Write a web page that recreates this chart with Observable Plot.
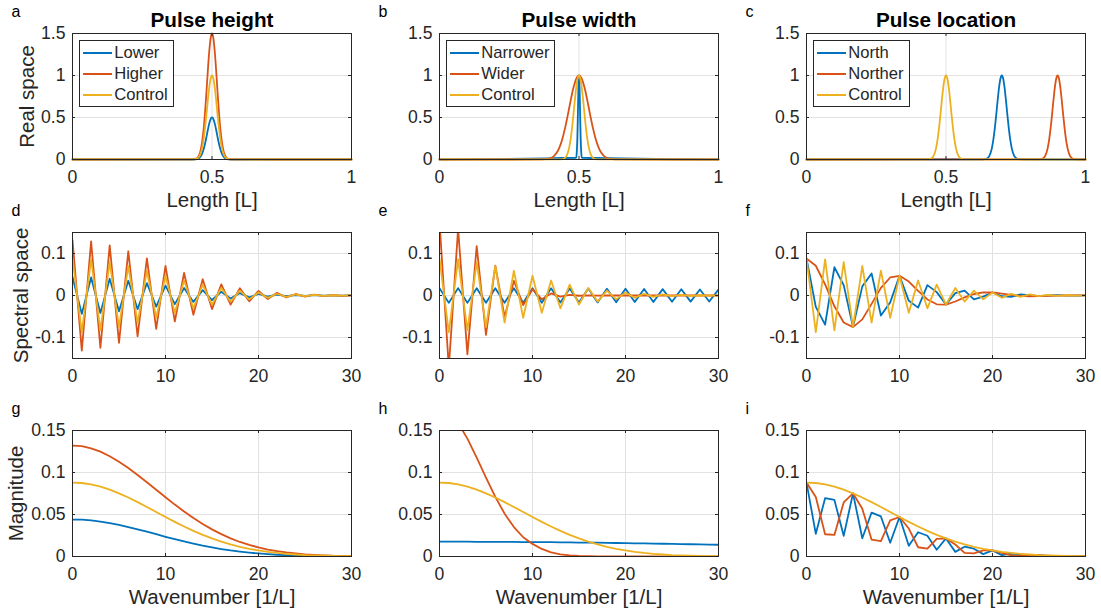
<!DOCTYPE html>
<html><head><meta charset="utf-8">
<script src="https://cdn.jsdelivr.net/npm/d3@7"></script>
<script src="https://cdn.jsdelivr.net/npm/@observablehq/plot@0.6"></script>
<style>
body{margin:0;background:#fff;}
#fig{position:relative;width:1101px;height:612px;background:#fff;font-family:"Liberation Sans",Arial,Helvetica,sans-serif;color:#262626;overflow:hidden}
.panel{position:absolute}
.legend{position:absolute;border:1px solid #262626;background:#fff;padding:1px 5px 1px 2px;font-size:16.6px;line-height:21px;color:#262626}
.legend .row{display:flex;align-items:center;height:21px;white-space:nowrap}
.legend .sw{width:29px;height:2px;margin-left:0.7px;margin-right:2.5px;flex:none}
</style></head><body><div id="fig"></div>
<script>
// ---------- data ----------
const seriesColors = ["#0072BD", "#D95319", "#EDB120"];

// Real space, column 1 (pulse height) and control pulse
const xPulse50 = [0,0.43,0.435,0.44,0.445,0.45,0.455,0.46,0.465,0.47,0.475,0.48,0.485,0.49,0.495,0.5,0.505,0.51,0.515,0.52,0.525,0.53,0.535,0.54,0.545,0.55,0.555,0.56,0.565,0.57,1];
const realControl = [0,0.0004,0.0013,0.0034,0.0085,0.019,0.041,0.080,0.145,0.242,0.373,0.532,0.701,0.854,0.961,1,0.961,0.854,0.701,0.532,0.373,0.242,0.145,0.080,0.041,0.019,0.0085,0.0034,0.0013,0.0004,0];
const realLower = [0,0.0002,0.0007,0.0017,0.0043,0.0095,0.021,0.040,0.073,0.121,0.187,0.266,0.351,0.427,0.481,0.5,0.481,0.427,0.351,0.266,0.187,0.121,0.073,0.040,0.021,0.0095,0.0043,0.0017,0.0007,0.0002,0];
const realHigher = [0,0.0006,0.002,0.0051,0.0128,0.029,0.062,0.120,0.218,0.363,0.560,0.798,1.052,1.281,1.442,1.5,1.442,1.281,1.052,0.798,0.560,0.363,0.218,0.120,0.062,0.029,0.0128,0.0051,0.002,0.0006,0];

// Real space, column 2 (pulse width)
const xNarrow = [0,0.49,0.492,0.494,0.496,0.498,0.5,0.502,0.504,0.506,0.508,0.51,1];
const realNarrow = [0,0.021,0.085,0.249,0.539,0.857,1,0.857,0.539,0.249,0.085,0.021,0];
const xWider = [0,0.36,0.37,0.38,0.39,0.40,0.41,0.42,0.43,0.44,0.45,0.46,0.47,0.48,0.49,0.5,0.51,0.52,0.53,0.54,0.55,0.56,0.57,0.58,0.59,0.60,0.61,0.62,0.63,0.64,1];
const realWider = [0,0.0004,0.0013,0.0034,0.0085,0.019,0.041,0.080,0.145,0.242,0.373,0.532,0.701,0.854,0.961,1,0.961,0.854,0.701,0.532,0.373,0.242,0.145,0.080,0.041,0.019,0.0085,0.0034,0.0013,0.0004,0];

// Real space, column 3 (pulse location)
const xNorth = [0,0.63,0.635,0.64,0.645,0.65,0.655,0.66,0.665,0.67,0.675,0.68,0.685,0.69,0.695,0.7,0.705,0.71,0.715,0.72,0.725,0.73,0.735,0.74,0.745,0.75,0.755,0.76,0.765,0.77,1];
const realNorth = [0,0.0004,0.0013,0.0034,0.0085,0.019,0.041,0.080,0.145,0.242,0.373,0.532,0.701,0.854,0.961,1,0.961,0.854,0.701,0.532,0.373,0.242,0.145,0.080,0.041,0.019,0.0085,0.0034,0.0013,0.0004,0];
const xNorther = [0,0.83,0.835,0.84,0.845,0.85,0.855,0.86,0.865,0.87,0.875,0.88,0.885,0.89,0.895,0.9,0.905,0.91,0.915,0.92,0.925,0.93,0.935,0.94,0.945,0.95,0.955,0.96,0.965,0.97,1];
const realNorther = [0,0.0004,0.0013,0.0034,0.0085,0.019,0.041,0.080,0.145,0.242,0.373,0.532,0.701,0.854,0.961,1,0.961,0.854,0.701,0.532,0.373,0.242,0.145,0.080,0.041,0.019,0.0085,0.0034,0.0013,0.0004,0];

// Wavenumbers
const wavenumbers = [0,1,2,3,4,5,6,7,8,9,10,11,12,13,14,15,16,17,18,19,20,21,22,23,24,25,26,27,28,29,30];

// Spectral space
const specLower = [0.0440,-0.0438,0.0429,-0.0416,0.0398,-0.0376,0.0351,-0.0324,0.0295,-0.0265,0.0235,-0.0206,0.0179,-0.0153,0.0129,-0.0108,0.0089,-0.0072,0.0058,-0.0046,0.0036,-0.0028,0.0021,-0.0016,0.0012,-0.0009,0.0007,-0.0005,0.0003,-0.0003,0.0002];
const specHigher = [0.1320,-0.1313,0.1287,-0.1248,0.1194,-0.1128,0.1053,-0.0971,0.0884,-0.0795,0.0705,-0.0618,0.0536,-0.0458,0.0387,-0.0323,0.0266,-0.0216,0.0173,-0.0138,0.0108,-0.0083,0.0063,-0.0048,0.0036,-0.0026,0.0020,-0.0014,0.0009,-0.0008,0.0005];
const specControl = [0.0880,-0.0875,0.0858,-0.0832,0.0796,-0.0752,0.0702,-0.0647,0.0589,-0.0530,0.0470,-0.0412,0.0357,-0.0305,0.0258,-0.0215,0.0177,-0.0144,0.0115,-0.0092,0.0072,-0.0055,0.0042,-0.0032,0.0024,-0.0017,0.0013,-0.0009,0.0006,-0.0005,0.0003];
const specNarrow = [0.0176,-0.0176,0.0176,-0.0176,0.0175,-0.0175,0.0174,-0.0174,0.0173,-0.0172,0.0171,-0.0171,0.0170,-0.0169,0.0168,-0.0166,0.0165,-0.0164,0.0162,-0.0161,0.0159,-0.0157,0.0156,-0.0154,0.0152,-0.0150,0.0148,-0.0146,0.0144,-0.0142,0.0140];
const specWider = [0.1760,-0.1716,0.1590,-0.1403,0.1176,-0.0940,0.0710,-0.0510,0.0350,-0.0229,0.0150,-0.0090,0.0050,-0.0026,0.0013,-0.0006,0.0003,-0.0001,0,0,0,0,0,0,0,0,0,0,0,0,0];
const specNorth = [0.0880,-0.0270,-0.0694,0.0673,0.0246,-0.0752,0.0217,0.0523,-0.0477,-0.0164,0.0470,-0.0127,-0.0289,0.0247,0.0080,-0.0215,0.0055,0.0117,-0.0093,-0.0028,0.0072,-0.0017,-0.0034,0.0026,0.0007,-0.0017,0.0004,0.0007,-0.0005,-0.0002,0.0003];
const specNorther = [0.0880,0.0708,0.0265,-0.0257,-0.0644,-0.0752,-0.0568,-0.0200,0.0182,0.0429,0.0470,0.0333,0.0110,-0.0094,-0.0209,-0.0215,-0.0143,-0.0044,0.0036,0.0074,0.0072,0.0044,0.0013,-0.0010,-0.0019,-0.0017,-0.0011,-0.0003,0.0002,0.0004,0.0003];

// Magnitude
const magLower = [0.0440,0.0438,0.0429,0.0416,0.0398,0.0376,0.0351,0.0324,0.0295,0.0265,0.0235,0.0206,0.0179,0.0153,0.0129,0.0108,0.0089,0.0072,0.0058,0.0046,0.0036,0.0028,0.0021,0.0016,0.0012,0.0009,0.0007,0.0005,0.0003,0.0003,0.0002];
const magHigher = [0.1320,0.1313,0.1287,0.1248,0.1194,0.1128,0.1053,0.0971,0.0884,0.0795,0.0705,0.0618,0.0536,0.0458,0.0387,0.0323,0.0266,0.0216,0.0173,0.0138,0.0108,0.0083,0.0063,0.0048,0.0036,0.0026,0.0020,0.0014,0.0009,0.0008,0.0005];
const magControl = [0.0880,0.0875,0.0858,0.0832,0.0796,0.0752,0.0702,0.0647,0.0589,0.0530,0.0470,0.0412,0.0357,0.0305,0.0258,0.0215,0.0177,0.0144,0.0115,0.0092,0.0072,0.0055,0.0042,0.0032,0.0024,0.0017,0.0013,0.0009,0.0006,0.0005,0.0003];
const magNarrow = [0.0176,0.0176,0.0176,0.0176,0.0175,0.0175,0.0174,0.0174,0.0173,0.0172,0.0171,0.0171,0.0170,0.0169,0.0168,0.0166,0.0165,0.0164,0.0162,0.0161,0.0159,0.0157,0.0156,0.0154,0.0152,0.0150,0.0148,0.0146,0.0144,0.0142,0.0140];
const magWider = [0.1760,0.1716,0.1590,0.1403,0.1176,0.0940,0.0710,0.0510,0.0350,0.0229,0.0150,0.0090,0.0050,0.0026,0.0013,0.0006,0.0003,0.0001,0,0,0,0,0,0,0,0,0,0,0,0,0];
const magNorth = [0.0880,0.0270,0.0694,0.0673,0.0246,0.0752,0.0217,0.0523,0.0477,0.0164,0.0470,0.0127,0.0289,0.0247,0.0080,0.0215,0.0055,0.0117,0.0093,0.0028,0.0072,0.0017,0.0034,0.0026,0.0007,0.0017,0.0004,0.0007,0.0005,0.0002,0.0003];
const magNorther = [0.0880,0.0708,0.0265,0.0257,0.0644,0.0752,0.0568,0.0200,0.0182,0.0429,0.0470,0.0333,0.0110,0.0094,0.0209,0.0215,0.0143,0.0044,0.0036,0.0074,0.0072,0.0044,0.0013,0.0010,0.0019,0.0017,0.0011,0.0003,0.0002,0.0004,0.0003];

// Labels
const columnTitles = ["Pulse height", "Pulse width", "Pulse location"];
const legendNames = [["Lower","Higher","Control"],["Narrower","Wider","Control"],["North","Norther","Control"]];
const panelLetters = [["a","b","c"],["d","e","f"],["g","h","i"]];
const rowYLabels = ["Real space", "Spectral space", "Magnitude"];
const rowXLabels = ["Length [L]", null, "Wavenumber [1/L]"];
const realTicksX = [0, 0.5, 1];
const realTicksY = [0, 0.5, 1, 1.5];
const waveTicksX = [0, 10, 20, 30];
const specTicksY = [-0.1, 0, 0.1];
const magTicksY = [0, 0.05, 0.1, 0.15];

// ---------- layout ----------
const W = 279, H = 126, ML = 72, MR = 12, MT = 33, MB = 56;
const colLeft = [72, 439, 806];
const rowTop = [33, 232, 430];
const AX = "#262626", GRID = "#e2e2e2";
const yLabelDx = [-39, -45, -49.5];
const FONT = '"Liberation Sans", Arial, Helvetica, sans-serif';

const rowCfg = [
  {xDomain:[0,1], yDomain:[0,1.5], xTicks:realTicksX, yTicks:realTicksY, curve:"monotone-x", clip:false},
  {xDomain:[0,30], yDomain:[-0.15,0.15], xTicks:waveTicksX, yTicks:specTicksY, curve:"linear", clip:true},
  {xDomain:[0,30], yDomain:[0,0.15], xTicks:waveTicksX, yTicks:magTicksY, curve:"linear", clip:true}
];

const panelSeries = [
  [ [[xPulse50,realLower],[xPulse50,realHigher],[xPulse50,realControl]],
    [[xNarrow,realNarrow],[xWider,realWider],[xPulse50,realControl]],
    [[xNorth,realNorth],[xNorther,realNorther],[xPulse50,realControl]] ],
  [ [[wavenumbers,specLower],[wavenumbers,specHigher],[wavenumbers,specControl]],
    [[wavenumbers,specNarrow],[wavenumbers,specWider],[wavenumbers,specControl]],
    [[wavenumbers,specNorth],[wavenumbers,specNorther],[wavenumbers,specControl]] ],
  [ [[wavenumbers,magLower],[wavenumbers,magHigher],[wavenumbers,magControl]],
    [[wavenumbers,magNarrow],[wavenumbers,magWider],[wavenumbers,magControl]],
    [[wavenumbers,magNorth],[wavenumbers,magNorther],[wavenumbers,magControl]] ]
];

const fig = document.getElementById("fig");
const fmt = d => String(d);

for (let r = 0; r < 3; r++) {
  for (let c = 0; c < 3; c++) {
    const cfg = rowCfg[r];
    const marks = [
      Plot.gridX(cfg.xTicks, {stroke: GRID, strokeOpacity: 1}),
      Plot.gridY(cfg.yTicks, {stroke: GRID, strokeOpacity: 1})
    ];
    panelSeries[r][c].forEach(([xs, ys], s) => {
      marks.push(Plot.line(xs.map((xv, i) => ({x: xv, y: ys[i]})), {
        x: "x", y: "y", stroke: seriesColors[s], strokeWidth: 1.8,
        curve: cfg.curve, clip: cfg.clip, strokeLinejoin: "round"
      }));
    });
    marks.push(
      Plot.tickX(cfg.xTicks, {insetTop: H - 3, stroke: AX}),
      Plot.tickX(cfg.xTicks, {insetBottom: H - 3, stroke: AX}),
      Plot.tickY(cfg.yTicks, {insetRight: W - 3, stroke: AX}),
      Plot.tickY(cfg.yTicks, {insetLeft: W - 3, stroke: AX}),
      Plot.axisX({ticks: cfg.xTicks, tickSize: 0, tickPadding: 11, tickFormat: fmt, label: null, fontSize: 17.6, fill: AX}),
      Plot.axisY({ticks: cfg.yTicks, tickSize: 0, tickPadding: 7, tickFormat: fmt, label: null, fontSize: 17.6, fill: AX}),
      Plot.frame({stroke: AX, strokeWidth: 1}),
      Plot.text([panelLetters[r][c]], {frameAnchor: "top-left", textAnchor: "start", lineAnchor: "bottom", dx: -61, dy: -17, fontSize: 16, fill: "#000"})
    );
    if (r === 0) {
      marks.push(Plot.text([columnTitles[c]], {frameAnchor: "top", lineAnchor: "bottom", dy: -7, fontSize: 20.7, fontWeight: "bold", fill: "#000"}));
    }
    if (rowXLabels[r]) {
      marks.push(Plot.text([rowXLabels[r]], {frameAnchor: "bottom", lineAnchor: "bottom", dy: 47, fontSize: 20.5, fill: AX}));
    }
    if (c === 0) {
      marks.push(Plot.text([rowYLabels[r]], {frameAnchor: "left", rotate: -90, textAnchor: "middle", lineAnchor: "bottom", dx: yLabelDx[r], fontSize: 20.5, fill: AX}));
    }
    const chart = Plot.plot({
      width: W + ML + MR, height: H + MT + MB,
      marginLeft: ML, marginRight: MR, marginTop: MT, marginBottom: MB,
      x: {domain: cfg.xDomain}, y: {domain: cfg.yDomain},
      style: {background: "transparent", overflow: "visible", fontFamily: FONT, fontSize: "17.6px", color: AX},
      marks
    });
    const holder = document.createElement("div");
    holder.className = "panel";
    holder.style.left = (colLeft[c] - ML) + "px";
    holder.style.top = (rowTop[r] - MT) + "px";
    holder.appendChild(chart);
    fig.appendChild(holder);

    if (r === 0) {
      const lg = document.createElement("div");
      lg.className = "legend";
      lg.style.left = (colLeft[c] + 7) + "px";
      lg.style.top = (rowTop[r] + 7) + "px";
      legendNames[c].forEach((name, s) => {
        const row = document.createElement("div");
        row.className = "row";
        const sw = document.createElement("span");
        sw.className = "sw";
        sw.style.background = seriesColors[s];
        const tx = document.createElement("span");
        tx.textContent = name;
        row.appendChild(sw); row.appendChild(tx);
        lg.appendChild(row);
      });
      fig.appendChild(lg);
    }
  }
}
</script></body></html>
